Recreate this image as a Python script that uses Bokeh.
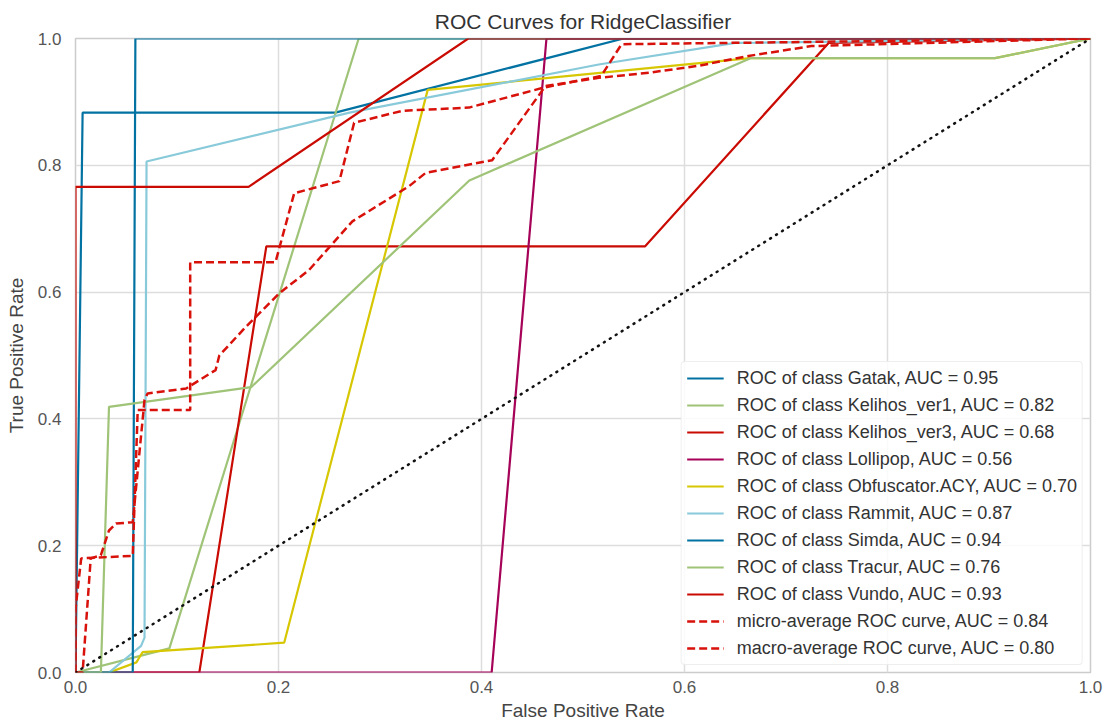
from bokeh.plotting import figure
from bokeh.models import Range1d, FixedTicker, PrintfTickFormatter, Legend, LegendItem
from bokeh.embed import file_html
from bokeh.resources import INLINE

# ---- data ----
gatak_fpr = [0.0, 0.007, 0.256, 0.54, 1.0]
gatak_tpr = [0.0, 0.883, 0.883, 1.0, 1.0]

kelihos1_fpr = [0.0, 0.0925, 0.279, 1.0]
kelihos1_tpr = [0.0, 0.038, 1.0, 1.0]

kelihos3_fpr = [0.0, 0.122, 0.188, 0.561, 0.742, 1.0]
kelihos3_tpr = [0.0, 0.0, 0.672, 0.672, 0.993, 1.0]

lollipop_fpr = [0.0, 0.41, 0.464, 1.0]
lollipop_tpr = [0.0, 0.0, 1.0, 1.0]

obf_fpr = [0.0, 0.033, 0.06, 0.066, 0.2056, 0.347, 0.665, 0.906, 1.0]
obf_tpr = [0.0, 0.0, 0.016, 0.032, 0.047, 0.919, 0.969, 0.969, 1.0]

rammit_fpr = [0.0, 0.033, 0.0646, 0.068, 0.070, 0.27, 0.5155, 0.65, 1.0]
rammit_tpr = [0.0, 0.0, 0.042, 0.055, 0.806, 0.883, 0.959, 0.993, 1.0]

simda_fpr = [0.0, 0.0564, 0.059, 1.0]
simda_tpr = [0.0, 0.0, 1.0, 1.0]

tracur_fpr = [0.0, 0.025, 0.033, 0.173, 0.388, 0.665, 0.906, 1.0]
tracur_tpr = [0.0, 0.0, 0.419, 0.45, 0.776, 0.969, 0.969, 1.0]

vundo_fpr = [0.0, 0.0, 0.1705, 0.387, 1.0]
vundo_tpr = [0.0, 0.766, 0.766, 1.0, 1.0]

micro_fpr = [0.0, 0.0, 0.0056, 0.0564, 0.0613, 0.113, 0.113, 0.197, 0.2155, 0.26,
             0.2745, 0.322, 0.3876, 0.46, 0.518, 0.538, 1.0]
micro_tpr = [0.0, 0.10, 0.18, 0.184, 0.414, 0.414, 0.647, 0.647, 0.756, 0.775,
             0.867, 0.886, 0.891, 0.922, 0.941, 0.991, 1.0]

macro_fpr = [0.0, 0.007, 0.015, 0.025, 0.033, 0.04, 0.0564, 0.068, 0.071, 0.109, 0.138,
             0.1417, 0.168, 0.2007, 0.2302, 0.2728, 0.3286, 0.345, 0.4105, 0.463,
             0.5155, 0.565, 0.614, 0.663, 0.725, 1.0]
macro_tpr = [0.0, 0.0, 0.18, 0.185, 0.224, 0.235, 0.237, 0.43, 0.44, 0.448, 0.477,
             0.50, 0.5455, 0.598, 0.635, 0.7116, 0.767, 0.788, 0.808, 0.925,
             0.938, 0.946, 0.957, 0.9725, 0.988, 1.0]

class_names = ["Gatak", "Kelihos_ver1", "Kelihos_ver3", "Lollipop", "Obfuscator.ACY",
               "Rammit", "Simda", "Tracur", "Vundo"]
class_auc = [0.95, 0.82, 0.68, 0.56, 0.70, 0.87, 0.94, 0.76, 0.93]
micro_auc = 0.84
macro_auc = 0.80

palette = ["#0272a2", "#9fc377", "#ca0b03", "#a50258", "#d7c703", "#88cada"]
avg_color = "#d8110b"

curves = [
    (gatak_fpr, gatak_tpr), (kelihos1_fpr, kelihos1_tpr), (kelihos3_fpr, kelihos3_tpr),
    (lollipop_fpr, lollipop_tpr), (obf_fpr, obf_tpr), (rammit_fpr, rammit_tpr),
    (simda_fpr, simda_tpr), (tracur_fpr, tracur_tpr), (vundo_fpr, vundo_tpr),
]

FONT = "Liberation Sans"

p = figure(width=1113, height=727, output_backend="svg", toolbar_location=None,
           x_range=Range1d(0, 1), y_range=Range1d(0, 1),
           min_border_left=75, min_border_right=23, min_border_top=38, min_border_bottom=55,
           title="ROC Curves for RidgeClassifier")
p.background_fill_color = "white"
p.border_fill_color = "white"
p.outline_line_color = "#cccccc"
p.outline_line_width = 1.5

p.title.align = "center"
p.title.text_font = FONT
p.title.text_font_size = "21px"
p.title.text_font_style = "normal"
p.title.text_color = "#333333"
p.title.standoff = 11

for ax in (p.xaxis[0], p.yaxis[0]):
    ax.ticker = FixedTicker(ticks=[0.0, 0.2, 0.4, 0.6, 0.8, 1.0])
    ax.formatter = PrintfTickFormatter(format="%.1f")
    ax.major_tick_line_color = None
    ax.minor_tick_line_color = None
    ax.axis_line_color = None
    ax.major_label_text_font = FONT
    ax.major_label_text_font_size = "17px"
    ax.major_label_text_color = "#555555"
    ax.axis_label_text_font = FONT
    ax.axis_label_text_font_size = "19px"
    ax.axis_label_text_font_style = "normal"
    ax.axis_label_text_color = "#444444"
    ax.major_tick_in = 0
    ax.major_tick_out = 0

p.xaxis.axis_label = "False Positive Rate"
p.yaxis.axis_label = "True Positive Rate"
p.xaxis.major_label_standoff = 8
p.yaxis.major_label_standoff = 14
p.xaxis.axis_label_standoff = 4
p.yaxis.axis_label_standoff = 8

p.xgrid.grid_line_color = "#dddddd"
p.ygrid.grid_line_color = "#dddddd"
p.xgrid.grid_line_width = 1.5
p.ygrid.grid_line_width = 1.5

items = []
for i, ((fx, fy), name, auc) in enumerate(zip(curves, class_names, class_auc)):
    r = p.line(fx, fy, line_color=palette[i % len(palette)], line_width=2.2)
    items.append(LegendItem(label="ROC of class {}, AUC = {:0.2f}".format(name, auc), renderers=[r]))

r_micro = p.line(micro_fpr, micro_tpr, line_color=avg_color, line_width=2.5, line_dash="8 4")
items.append(LegendItem(label="micro-average ROC curve, AUC = {:0.2f}".format(micro_auc), renderers=[r_micro]))
r_macro = p.line(macro_fpr, macro_tpr, line_color=avg_color, line_width=2.5, line_dash="8 4")
items.append(LegendItem(label="macro-average ROC curve, AUC = {:0.2f}".format(macro_auc), renderers=[r_macro]))

p.line([0, 1], [0, 1], line_color="#111111", line_width=2.5, line_dash="1 6", line_cap="round")

legend = Legend(items=items, location="bottom_right")
legend.margin = 7
legend.padding = 5
legend.spacing = 5
legend.glyph_width = 37
legend.glyph_height = 22
legend.label_height = 22
legend.label_standoff = 13
legend.label_text_font = FONT
legend.label_text_font_size = "18px"
legend.label_text_color = "#333333"
legend.border_line_color = "#dddddd"
legend.border_line_width = 1
legend.background_fill_color = "white"
legend.background_fill_alpha = 0.85
if "border_radius" in Legend.properties():
    legend.border_radius = 4
p.add_layout(legend)

open("out.html", "w").write(file_html(p, INLINE))
